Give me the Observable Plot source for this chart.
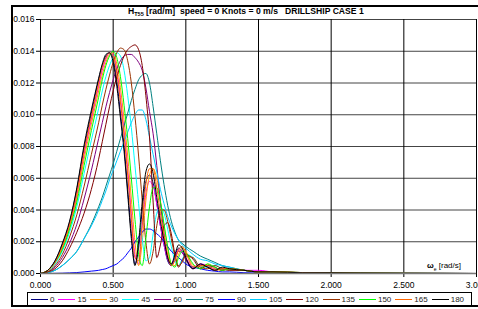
<!DOCTYPE html>
<html>
<head>
<meta charset="utf-8">
<script src="https://cdn.jsdelivr.net/npm/d3@7"></script>
<script src="https://cdn.jsdelivr.net/npm/@observablehq/plot@0.6"></script>
<style>
  html, body { margin:0; padding:0; background:#fff; overflow:hidden; }
  #wrap { position:relative; width:478px; height:309px; overflow:hidden; font-family: Arial, "Liberation Sans", sans-serif; }
  #plot { position:absolute; left:0; top:0; }
  #frame { position:absolute; left:11px; top:5px; width:470px; height:302px; border:2px solid #000; box-sizing:border-box; pointer-events:none; }
  #title { position:absolute; left:128px; top:6px; font-weight:bold; font-size:8.6px; white-space:nowrap; color:#000; }
  #title sub { font-size:5.5px; vertical-align:-2px; }
  #wlabel { position:absolute; left:427px; top:261px; font-size:8px; white-space:nowrap; color:#000; }
  #wlabel sub { font-size:5px; }
  #legend { position:absolute; left:27px; top:292px; width:445px; height:14px; border:1px solid #000; box-sizing:border-box; display:flex; align-items:center; padding-left:3px; font-size:8px; color:#222; white-space:nowrap; }
  .li { display:flex; align-items:center; margin-right:4px; }
  .sw { width:17px; height:0; border-top:1px solid; margin-right:2px; }
</style>
</head>
<body>
<div id="wrap">
  <div id="plot"></div>
  <div id="title">H<sub>T55</sub> [rad/m]&nbsp; speed = 0 Knots = 0 m/s &nbsp; DRILLSHIP CASE 1</div>
  <div id="wlabel"><b>ω</b><sub>e</sub> [rad/s]</div>
  <div id="legend"></div>
  <div id="frame"></div>
</div>
<script>
// Wave frequency grid [rad/s]
const omega = [0,0.05,0.1,0.15,0.2,0.25,0.3,0.35,0.4,0.425,0.45,0.475,0.5,0.525,0.55,0.575,0.6,0.625,0.65,0.675,0.7,0.725,0.75,0.775,0.8,0.825,0.85,0.875,0.9,0.925,0.95,0.975,1.0,1.05,1.1,1.15,1.2,1.25,1.3,1.4,1.5,1.6,1.8,2.0,2.2,2.5,3.0];

const headings = ["0","15","30","45","60","75","90","105","120","135","150","165","180"];
const colors = ["#000080","#ff00ff","#ff9900","#00ffff","#800080","#008080","#0000ff","#00ccff","#800000","#993300","#00ff00","#ff6600","#000000"];

const h0   = [0,0.0002,0.0008,0.0018,0.0032,0.0053,0.0079,0.0101,0.0122,0.0131,0.0137,0.0139,0.0135,0.0121,0.0101,0.0080,0.0053,0.0025,0.0006,0.0016,0.0040,0.0058,0.0062,0.0057,0.0044,0.0030,0.0018,0.0008,0.0005,0.0011,0.0016,0.0014,0.0009,0.0003,0.0006,0.0004,0.0002,0.0003,0.0003,0.0002,0.0001,0.0001,0.00005,0.00004,0.00002,0.00001,0];
const h15  = [0,0.0002,0.0007,0.0016,0.0030,0.0049,0.0075,0.0097,0.0118,0.0128,0.0135,0.0139,0.0138,0.0128,0.0111,0.0090,0.0066,0.0038,0.0012,0.0006,0.0030,0.0050,0.0058,0.0055,0.0044,0.0030,0.0018,0.0009,0.0006,0.0010,0.0015,0.0014,0.0010,0.0004,0.0006,0.0005,0.0003,0.0003,0.0003,0.0002,0.0002,0.0001,0.00006,0.00004,0.00002,0.00001,0];
const h30  = [0,0.0002,0.0007,0.0016,0.0029,0.0047,0.0072,0.0094,0.0115,0.0125,0.0133,0.0138,0.0139,0.0132,0.0117,0.0097,0.0074,0.0047,0.0020,0.0005,0.0020,0.0046,0.0062,0.0066,0.0060,0.0046,0.0030,0.0016,0.0006,0.0005,0.0012,0.0016,0.0014,0.0005,0.0004,0.0006,0.0003,0.0002,0.0003,0.0002,0.0001,0.0001,0.00006,0.00004,0.00002,0.00001,0];
const h45  = [0,0.0001,0.0006,0.0014,0.0026,0.0042,0.0063,0.0084,0.0104,0.0115,0.0124,0.0131,0.0136,0.0139,0.0137,0.0128,0.0112,0.0092,0.0068,0.0044,0.0022,0.0008,0.0010,0.0025,0.0038,0.0042,0.0038,0.0028,0.0017,0.0008,0.0005,0.0009,0.0012,0.0010,0.0004,0.0004,0.0005,0.0003,0.0002,0.0002,0.0001,0.0001,0.00006,0.00004,0.00002,0.00001,0];
const h60  = [0,0.0001,0.0004,0.0010,0.0019,0.0031,0.0047,0.0065,0.0085,0.0095,0.0105,0.0114,0.0122,0.0129,0.0134,0.0137,0.0138,0.0138,0.0136,0.0133,0.0128,0.0117,0.0102,0.0088,0.0068,0.0045,0.0025,0.0010,0.0005,0.0010,0.0014,0.0013,0.0009,0.0003,0.0005,0.0004,0.0002,0.0003,0.0002,0.0002,0.0001,0.0001,0.00005,0.00004,0.00002,0.00001,0];
const h75  = [0,0.00005,0.0002,0.0005,0.0009,0.0014,0.0022,0.0031,0.0042,0.0048,0.0055,0.0062,0.0069,0.0077,0.0085,0.0093,0.0101,0.0109,0.0116,0.0122,0.0125,0.0126,0.0120,0.0105,0.0088,0.0071,0.0056,0.0043,0.0033,0.0026,0.0021,0.0019,0.0017,0.0014,0.0011,0.0009,0.0007,0.0005,0.0004,0.0002,0.0001,0.00008,0.00005,0.00003,0.00002,0.00001,0];
const h90  = [0,0,0.00001,0.00002,0.00004,0.00006,0.0001,0.00015,0.0002,0.00025,0.0003,0.0004,0.0005,0.0006,0.0008,0.0010,0.0013,0.0016,0.0020,0.0023,0.0026,0.0028,0.0028,0.0027,0.0025,0.0023,0.0020,0.0017,0.0014,0.0012,0.0010,0.0008,0.0006,0.0004,0.0003,0.0002,0.00015,0.0001,0.0001,0.00005,0.00003,0.00002,0.00001,0.00001,0,0,0];
const h105 = [0,0.00005,0.0002,0.0005,0.0009,0.0014,0.0022,0.0030,0.0040,0.0046,0.0052,0.0059,0.0065,0.0071,0.0077,0.0083,0.0089,0.0095,0.0100,0.0103,0.0103,0.0097,0.0086,0.0075,0.0064,0.0053,0.0044,0.0036,0.0030,0.0025,0.0021,0.0018,0.0016,0.0012,0.0009,0.0008,0.0006,0.0005,0.0004,0.0002,0.0001,0.00008,0.00005,0.00003,0.00002,0.00001,0];
const h120 = [0,0.0001,0.0003,0.0008,0.0016,0.0026,0.0038,0.0053,0.0072,0.0083,0.0094,0.0105,0.0115,0.0124,0.0131,0.0137,0.0141,0.0143,0.0144,0.0141,0.0131,0.0112,0.0086,0.0045,0.0010,0.0018,0.0030,0.0032,0.0025,0.0012,0.0004,0.0008,0.0012,0.0009,0.0003,0.0005,0.0004,0.0002,0.0003,0.0002,0.0001,0.0001,0.00005,0.00004,0.00002,0.00001,0];
const h135 = [0,0.0001,0.0005,0.0012,0.0023,0.0037,0.0055,0.0075,0.0095,0.0106,0.0116,0.0125,0.0133,0.0139,0.0142,0.0141,0.0134,0.0120,0.0099,0.0074,0.0046,0.0020,0.0006,0.0014,0.0030,0.0040,0.0040,0.0033,0.0022,0.0011,0.0005,0.0007,0.0011,0.0010,0.0004,0.0003,0.0005,0.0003,0.0002,0.0002,0.0001,0.0001,0.00006,0.00004,0.00002,0.00001,0];
const h150 = [0,0.0002,0.0007,0.0015,0.0028,0.0045,0.0068,0.0090,0.0111,0.0122,0.0131,0.0137,0.0140,0.0136,0.0124,0.0106,0.0085,0.0060,0.0034,0.0012,0.0005,0.0022,0.0042,0.0054,0.0054,0.0045,0.0031,0.0017,0.0006,0.0004,0.0010,0.0014,0.0013,0.0006,0.0003,0.0006,0.0004,0.0002,0.0003,0.0002,0.0001,0.0001,0.00006,0.00004,0.00002,0.00001,0];
const h165 = [0,0.0002,0.0007,0.0017,0.0031,0.0051,0.0077,0.0099,0.0120,0.0130,0.0136,0.0139,0.0137,0.0126,0.0108,0.0087,0.0062,0.0034,0.0010,0.0008,0.0032,0.0056,0.0066,0.0066,0.0054,0.0038,0.0024,0.0012,0.0005,0.0008,0.0015,0.0017,0.0013,0.0004,0.0005,0.0005,0.0002,0.0003,0.0003,0.0002,0.0001,0.0001,0.00006,0.00004,0.00002,0.00001,0];
const h180 = [0,0.0002,0.0008,0.0019,0.0033,0.0054,0.0081,0.0103,0.0123,0.0132,0.0138,0.0139,0.0133,0.0118,0.0098,0.0077,0.0050,0.0022,0.0005,0.0020,0.0045,0.0064,0.0069,0.0063,0.0048,0.0033,0.0021,0.0010,0.0006,0.0012,0.0018,0.0016,0.0010,0.0003,0.0006,0.0004,0.0002,0.0004,0.0003,0.0002,0.0001,0.0001,0.00005,0.00005,0.00003,0.00001,0];

const xTicks = [0,0.5,1,1.5,2,2.5,3];
const yTicks = [0,0.002,0.004,0.006,0.008,0.010,0.012,0.014,0.016];

const series = [h0,h15,h30,h45,h60,h75,h90,h105,h120,h135,h150,h165,h180];
const rows = [];
series.forEach((s, k) => s.forEach((v, i) => rows.push({w: omega[i], v, h: headings[k]})));

const chart = Plot.plot({
  width: 478,
  height: 290,
  marginLeft: 40,
  marginRight: 2,
  marginTop: 19,
  marginBottom: 17,
  style: {fontFamily: "Arial, 'Liberation Sans', sans-serif", fontSize: "8.5px", color: "#000", background: "transparent", overflow: "visible"},
  x: {domain: [0, 3], ticks: xTicks, tickFormat: d3.format(".3f"), label: null, tickSize: 4, tickPadding: 4},
  y: {domain: [0, 0.016], ticks: yTicks, tickFormat: d3.format(".3f"), label: null, tickSize: 4, tickPadding: 2},
  color: {domain: headings, range: colors},
  marks: [
    Plot.ruleY(yTicks.slice(1), {stroke: "#444", strokeWidth: 1}),
    Plot.ruleX(xTicks.slice(1), {stroke: "#000", strokeWidth: 1}),
    Plot.line(rows, {x: "w", y: "v", z: "h", stroke: "h", strokeWidth: 1, curve: "monotone-x"}),
    Plot.ruleX([0], {stroke: "#000", strokeWidth: 1}),
    Plot.ruleY([0], {stroke: "#777", strokeWidth: 1.5})
  ]
});
document.getElementById("plot").appendChild(chart);

// legend
const leg = document.getElementById("legend");
headings.forEach((h, k) => {
  const it = document.createElement("div");
  it.className = "li";
  const sw = document.createElement("span");
  sw.className = "sw";
  sw.style.borderTopColor = colors[k];
  const t = document.createElement("span");
  t.textContent = h;
  it.appendChild(sw); it.appendChild(t);
  leg.appendChild(it);
});
</script>
</body>
</html>
